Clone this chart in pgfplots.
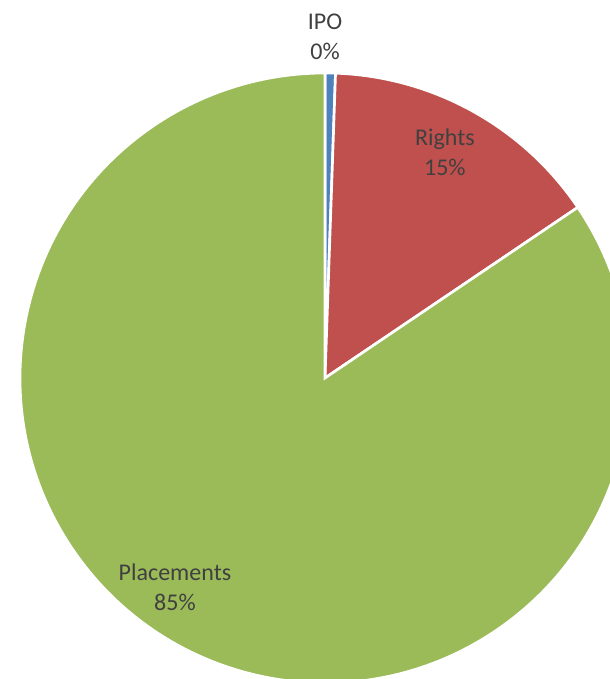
\documentclass[border=0pt]{standalone}
\usepackage{pgfplots}
\usepackage{pgfplotstable}
\pgfplotsset{compat=1.18}
\usepackage{fontspec}
\setmainfont{Carlito}

\definecolor{ipoblue}{HTML}{4F81BD}
\definecolor{rightsred}{HTML}{C0504D}
\definecolor{placegreen}{HTML}{9BBB59}
\definecolor{labelgray}{HTML}{404040}

% share of issuance, percent
\pgfplotstableread{
label value
IPO 0.55
Rights 15.0
Placements 84.45
}\piedata

\begin{document}
\begin{tikzpicture}
% wedge angles from the table, clockwise from 12 o'clock
\pgfplotstablegetelem{0}{value}\of\piedata \let\vA\pgfplotsretval
\pgfplotstablegetelem{1}{value}\of\piedata \let\vB\pgfplotsretval
\pgfplotstablegetelem{2}{value}\of\piedata \let\vC\pgfplotsretval
\pgfmathsetmacro{\aA}{90}
\pgfmathsetmacro{\aB}{\aA-3.6*\vA}
\pgfmathsetmacro{\aC}{\aB-3.6*\vB}
\pgfmathsetmacro{\aD}{\aC-3.6*\vC}
\def\R{228.75pt}
\begin{axis}[
    scale only axis,
    width=457.5pt, height=509.25pt,
    xmin=-1.0656, xmax=0.9344,
    ymin=-0.9869, ymax=1.2393,
    hide axis,
    clip=true,
]
\fill[ipoblue, draw=white, line width=2pt]
    (axis cs:0,0) -- ++(\aA:\R) arc[start angle=\aA, end angle=\aB, radius=\R] -- cycle;
\fill[rightsred, draw=white, line width=2pt]
    (axis cs:0,0) -- ++(\aB:\R) arc[start angle=\aB, end angle=\aC, radius=\R] -- cycle;
\fill[placegreen, draw=white, line width=2pt]
    (axis cs:0,0) -- ++(\aC:\R) arc[start angle=\aC, end angle=\aD, radius=\R] -- cycle;

\node[align=center, text=labelgray, font=\fontsize{18}{22.5}\selectfont]
    at (axis cs:0,1.118) {IPO\\0\%};
\node[align=center, text=labelgray, font=\fontsize{18}{22.5}\selectfont]
    at (axis cs:0.393,0.741) {Rights\\15\%};
\node[align=center, text=labelgray, font=\fontsize{18}{22.5}\selectfont]
    at (axis cs:-0.492,-0.685) {Placements\\85\%};
\end{axis}
\pgfresetboundingbox
\path[use as bounding box] (current axis.south west) rectangle (current axis.north east);
\end{tikzpicture}
\end{document}
